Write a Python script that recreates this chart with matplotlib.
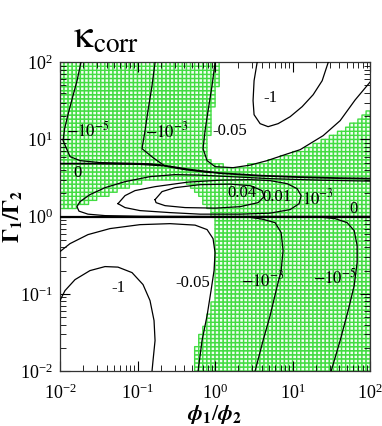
import numpy as np
import matplotlib.pyplot as plt
from matplotlib.path import Path

plt.rcParams['font.family'] = ['Liberation Serif', 'DejaVu Serif']
plt.rcParams['mathtext.fontset'] = 'stix'

# all curves, stored as log10(phi1/phi2), log10(Gamma1/Gamma2)
zero_top_x = [-2.0, -1.48, -0.97, -0.65, -0.32, 0.06, 0.58, 1.10, 1.61, 2.0]
zero_top_y = [0.686, 0.686, 0.680, 0.660, 0.608, 0.563, 0.531, 0.511, 0.498, 0.492]

zero_one_x = [-2.0, 2.0]
zero_one_y = [0.0, 0.0]

m1e5_up_x = [-1.73, -1.78, -1.85, -1.90, -1.94, -1.96, -1.87, -1.74, -1.48, -1.10, -0.84, -0.71]
m1e5_up_y = [1.994, 1.760, 1.50, 1.307, 1.139, 0.984, 0.777, 0.725, 0.699, 0.691, 0.684, 0.672]

m1e3_up_x = [-0.774, -0.813, -0.865, -0.903, -0.942, -0.800, -0.645, -0.387, -0.065]
m1e3_up_y = [1.994, 1.696, 1.372, 1.113, 0.880, 0.764, 0.654, 0.608, 0.570]

m005_up_x = [0.0, -0.039, -0.090, -0.129, -0.155, -0.103, 0.0, 0.232, 0.452, 0.671,
             0.903, 1.097, 1.394, 1.613, 1.806, 2.0]
m005_up_y = [1.994, 1.696, 1.372, 1.113, 0.880, 0.725, 0.647, 0.634, 0.667, 0.725,
             0.803, 0.867, 1.049, 1.243, 1.511, 1.744]

m1_up_x = [0.542, 0.503, 0.490, 0.503, 0.581, 0.684, 0.813, 0.968, 1.123, 1.265, 1.381, 1.458]
m1_up_y = [1.994, 1.760, 1.502, 1.320, 1.204, 1.165, 1.204, 1.294, 1.424, 1.579, 1.760, 1.994]

p1e3_x = [2.0, 1.355, 0.710, 0.194, -0.194, -0.516, -0.839, -1.161, -1.419, -1.613,
          -1.742, -1.781, -1.755, -1.639, -1.419, -0.968, -0.194, 2.0]
p1e3_y = [0.460, 0.472, 0.492, 0.518, 0.537, 0.544, 0.518, 0.453, 0.375, 0.285,
          0.194, 0.129, 0.071, 0.032, 0.013, 0.005, 0.003, 0.003]

p001_x = [-1.252, -1.161, -1.032, -0.774, -0.348, 0.065, 0.452, 0.710, 0.929, 1.058,
          1.110, 1.084, 0.968, 0.710, 0.323, -0.194, -0.581, -0.968, -1.161, -1.252]
p001_y = [0.168, 0.272, 0.337, 0.388, 0.447, 0.472, 0.479, 0.466, 0.427, 0.362,
          0.272, 0.168, 0.091, 0.045, 0.032, 0.032, 0.052, 0.078, 0.117, 0.168]

p004_x = [-0.774, -0.684, -0.516, -0.194, 0.194, 0.452, 0.606, 0.632, 0.555, 0.323,
          0.0, -0.387, -0.645, -0.761, -0.774]
p004_y = [0.220, 0.324, 0.375, 0.414, 0.421, 0.401, 0.337, 0.259, 0.181, 0.129,
          0.110, 0.117, 0.142, 0.181, 0.220]

m005_lo_x = [-2.0, -1.871, -1.639, -1.355, -0.968, -0.581, -0.258, -0.103, -0.026, 0.0,
             -0.013, -0.052, -0.103, -0.168, -0.219]
m005_lo_y = [-0.453, -0.350, -0.233, -0.155, -0.104, -0.091, -0.110, -0.168, -0.285, -0.466,
             -0.699, -0.958, -1.282, -1.605, -2.0]

m1_lo_x = [-2.0, -1.935, -1.806, -1.613, -1.419, -1.252, -1.071, -0.929, -0.839, -0.787,
           -0.774, -0.800, -0.813]
m1_lo_y = [-1.087, -0.958, -0.816, -0.699, -0.647, -0.654, -0.725, -0.880, -1.087, -1.346,
           -1.605, -1.864, -2.0]

m1e3_lo_x = [-1.5, 0.426, 0.606, 0.774, 0.852, 0.877, 0.852, 0.787, 0.710, 0.619, 0.516]
m1e3_lo_y = [-0.004, -0.006, -0.032, -0.078, -0.207, -0.440, -0.699, -0.958, -1.282, -1.605, -2.0]

m1e5_lo_x = [-0.5, 1.355, 1.548, 1.703, 1.794, 1.832, 1.832, 1.794, 1.716, 1.613, 1.497]
m1e5_lo_y = [-0.004, -0.006, -0.026, -0.078, -0.181, -0.375, -0.595, -0.893, -1.217, -1.605, -2.0]

# regions outside the green (shaded) domain
white_ur_x = [0.065, 0.065, 0.039, -0.013, -0.052, -0.090, -0.116, -0.052, 0.129, 0.387,
              0.645, 0.903, 1.161, 1.419, 1.677, 1.871, 2.05, 2.05]
white_ur_y = [2.05, 1.994, 1.760, 1.502, 1.243, 0.984, 0.828, 0.712, 0.647, 0.647,
              0.699, 0.777, 0.880, 0.997, 1.139, 1.269, 1.398, 2.05]

white_lo_x = [-2.05, -2.05, -1.794, -1.742, -1.548, -1.355, -1.161, -0.903, -0.645, -0.387,
              -0.258, -0.129, -0.013, 0.0, -0.026, -0.103, -0.194, -0.245, -0.284]
white_lo_y = [-2.05, 0.104, 0.104, 0.155, 0.220, 0.298, 0.375, 0.453, 0.492, 0.466,
              0.337, 0.168, 0.0, -0.570, -1.087, -1.346, -1.540, -1.735, -2.05]

contour_labels = ['0', '0', r'$-10^{-5}$', r'$-10^{-3}$', '-0.05', '-1',
                  r'$10^{-3}$', '0.01', '0.04', '-0.05', '-1', r'$-10^{-3}$', r'$-10^{-5}$']
label_x = [-1.77, 1.78, -1.64, -0.62, 0.19, 0.71, 1.33, 0.80, 0.35, -0.29, -1.25, 0.61, 1.54]
label_y = [0.56, 0.10, 1.11, 1.11, 1.11, 1.54, 0.23, 0.25, 0.31, -0.86, -0.92, -0.83, -0.79]

fig = plt.figure(figsize=(3.82, 4.26), dpi=100)
ax = fig.add_axes([0.157, 0.129, 0.812, 0.725])

# green grid of cells over the shaded domain
edges = np.linspace(-2, 2, 77)
centers = 0.5 * (edges[1:] + edges[:-1])
cx, cy = np.meshgrid(centers, centers)
pts = np.column_stack([cx.ravel(), cy.ravel()])
outside = Path(np.column_stack([white_ur_x, white_ur_y])).contains_points(pts)
outside |= Path(np.column_stack([white_lo_x, white_lo_y])).contains_points(pts)
mask = np.ma.masked_array(np.ones(cx.shape), mask=outside.reshape(cx.shape))
ex, ey = np.meshgrid(10 ** edges, 10 ** edges)
ax.pcolor(ex, ey, mask, cmap=plt.matplotlib.colors.ListedColormap(['#f2fff2']),
          edgecolors='#42dc42', linewidth=1.0, zorder=1)

curves = [
    (zero_top_x, zero_top_y, 1.3),
    (zero_one_x, zero_one_y, 1.6),
    (m1e5_up_x, m1e5_up_y, 0.9),
    (m1e3_up_x, m1e3_up_y, 0.9),
    (m005_up_x, m005_up_y, 0.9),
    (m1_up_x, m1_up_y, 0.9),
    (p1e3_x, p1e3_y, 0.9),
    (p001_x, p001_y, 0.9),
    (p004_x, p004_y, 0.9),
    (m005_lo_x, m005_lo_y, 0.9),
    (m1_lo_x, m1_lo_y, 0.9),
    (m1e3_lo_x, m1e3_lo_y, 0.9),
    (m1e5_lo_x, m1e5_lo_y, 0.9),
]
for cxs, cys, lw in curves:
    ax.plot(10 ** np.array(cxs), 10 ** np.array(cys), color='black', lw=lw, zorder=3)

for s, lx, ly in zip(contour_labels, label_x, label_y):
    ax.text(10 ** lx, 10 ** ly, s, fontsize=12, ha='center', va='center', zorder=4)

ax.set_xscale('log')
ax.set_yscale('log')
ax.set_xlim(1e-2, 1e2)
ax.set_ylim(1e-2, 1e2)
ax.tick_params(which='both', direction='in', top=True, right=True, labelsize=13)
ax.tick_params(which='major', length=7, pad=9)
ax.tick_params(which='minor', length=4)
ax.tick_params(axis='y', which='major', pad=5)
for sp in ax.spines.values():
    sp.set_color('#333333')
    sp.set_linewidth(0.9)

ax.set_xlabel(r'$\boldsymbol{\phi}_\mathbf{1}/\boldsymbol{\phi}_\mathbf{2}$', fontsize=16)
ax.xaxis.set_label_coords(0.5, -0.105)
ax.set_ylabel(r'$\mathbf{\Gamma_1/\Gamma_2}$', fontsize=16)
ax.yaxis.set_label_coords(-0.112, 0.5)
fig.text(0.19, 0.91, r'$\mathrm{\kappa}_{\mathrm{corr}}$', fontsize=28, ha='left', va='center')

plt.savefig('out.png', dpi=100)
plt.close()
